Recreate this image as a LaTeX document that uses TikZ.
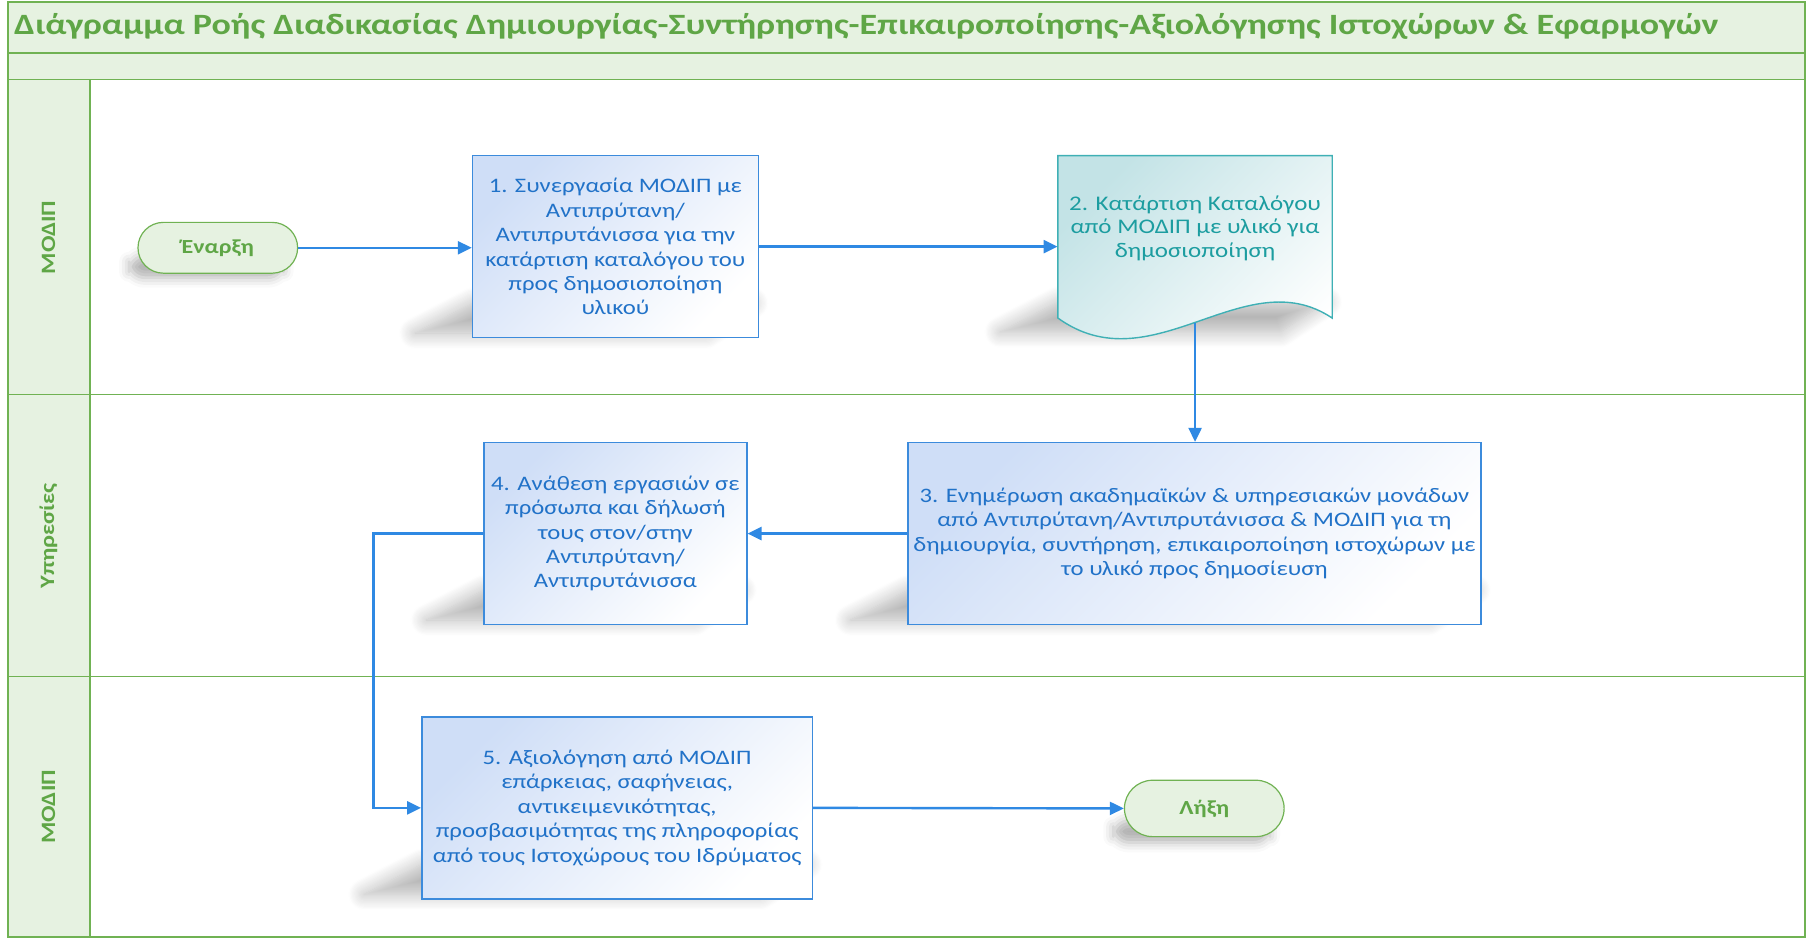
\documentclass[tikz,border=0pt]{standalone}
\usepackage{fontspec}
\setmainfont{Carlito}[FakeStretch=1.2]
\newfontfamily\titlefont{Carlito}[FakeStretch=1.22]
\usetikzlibrary{arrows.meta,shadows.blur,shapes.misc,calc}
\definecolor{gfill}{HTML}{E6F2E1}
\definecolor{gline}{HTML}{70B253}
\definecolor{gtext}{HTML}{5FA646}
\definecolor{bline}{HTML}{3C8BDC}
\definecolor{btext}{HTML}{2172C8}
\definecolor{bfill}{HTML}{CFDEF7}
\definecolor{tline}{HTML}{3FB0B5}
\definecolor{ttext}{HTML}{1C9DA0}
\definecolor{tfill}{HTML}{C3E3E6}
\definecolor{arrc}{HTML}{2F89E3}
\newcommand\mkshadow[3]{\path[blur shadow={shadow xshift=0pt,shadow yshift=0pt,shadow blur radius=8pt,shadow blur steps=14,shadow opacity=30}] (#1-50,#3-4) -- (#2-45,#3-4) -- (#2-5,#3-30) -- (#1,#3-30) -- cycle;}
\tikzset{
  box/.style={draw=bline, line width=0.7pt, top color=bfill, bottom color=white, shading angle=45,
    text=btext, font=\fontsize{10.3}{12.2}\selectfont, align=center, inner sep=1pt},
  term/.style={rounded rectangle, draw=gline, line width=0.6pt, fill=gfill,
    text=gtext, font=\bfseries\fontsize{10}{12}\selectfont},
  lanelabel/.style={rotate=90, text=gtext, font=\bfseries\fontsize{10.2}{12}\selectfont},
  arr/.style={draw=arrc, line width=1.2pt, -{Triangle[length=7pt,width=6.5pt]}},
  gl/.style={draw=gline, line width=1pt},
}
\begin{document}
\begin{tikzpicture}[x=0.5762pt,y=-0.5762pt]
\useasboundingbox (0,0) rectangle (1568,814);
% bands and lanes
\fill[gfill] (7,2) rectangle (1566,69);
\fill[gfill] (7,69) rectangle (78,813);
\draw[gl] (7,46) -- (1566,46);
\draw[gl, line width=0.8pt] (7,69) -- (1566,69);
\draw[gl, line width=0.6pt] (7,342) -- (1566,342);
\draw[gl, line width=0.6pt] (7,587) -- (1566,587);
\draw[gl] (78,69) -- (78,813);
\draw[gl] (7,2) rectangle (1566,813);
\node[anchor=west, text=gtext, font=\titlefont\bfseries\fontsize{14.75}{17}\selectfont, inner sep=0pt] (title) at (12,23)
  {Διάγραμμα Ροής Διαδικασίας Δημιουργίας-Συντήρησης-Επικαιροποίησης-Αξιολόγησης Ιστοχώρων \& Εφαρμογών};
\node[lanelabel] (lane1) at (42,206) {ΜΟΔΙΠ};
\node[lanelabel] (lane2) at (42,465) {Υπηρεσίες};
\node[lanelabel] (lane3) at (42,700) {ΜΟΔΙΠ};
% shadows
\mkshadow{410}{658}{293}
\mkshadow{918}{1156}{292}
\mkshadow{788}{1285}{542}
\mkshadow{420}{648}{542}
\mkshadow{366}{705}{780}
\path[blur shadow={shadow xshift=0pt,shadow yshift=0pt,shadow blur radius=5pt,shadow opacity=30}, rounded corners=8pt] (112,222) rectangle (246,241);
\path[blur shadow={shadow xshift=0pt,shadow yshift=0pt,shadow blur radius=5pt,shadow opacity=30}, rounded corners=8pt] (966,712) rectangle (1102,731);
% document shape
\path[draw=tline, line width=0.7pt, top color=tfill, bottom color=white, shading angle=45]
  (918,135) -- (1156,135) -- (1156,276) .. controls (1080,225) and (1000,335) .. (918,276) -- cycle;
\node[minimum width=137.1pt, minimum height=81.2pt, inner sep=0pt] (doc) at (1037,205.5) {};
\node[text=ttext, font=\fontsize{10.4}{11.9}\selectfont, align=center] (doctext) at (1037,198)
  {2. Κατάρτιση Καταλόγου\\από ΜΟΔΙΠ με υλικό για\\δημοσιοποίηση};
\coordinate (docbot) at (1037,280);
% nodes
\node[term, minimum width=86.5pt, minimum height=25.4pt] (start) at (189,215) {Έναρξη};
\node[term, minimum width=86.5pt, minimum height=28.2pt] (end) at (1045,701.5) {Λήξη};
\node[box, minimum width=142.9pt, minimum height=91pt] (b1) at (534,214)
  {1. Συνεργασία ΜΟΔΙΠ με\\Αντιπρύτανη/\\Αντιπρυτάνισσα για την\\κατάρτιση καταλόγου του\\προς δημοσιοποίηση\\υλικού};
\node[box, minimum width=286.4pt, minimum height=91pt] (b3) at (1036.5,463)
  {3. Ενημέρωση ακαδημαϊκών \& υπηρεσιακών μονάδων\\από Αντιπρύτανη/Αντιπρυτάνισσα \& ΜΟΔΙΠ για τη\\δημιουργία, συντήρηση, επικαιροποίηση ιστοχώρων με\\το υλικό προς δημοσίευση};
\node[box, minimum width=131.4pt, minimum height=91pt] (b4) at (534,463)
  {4. Ανάθεση εργασιών σε\\πρόσωπα και δήλωσή\\τους στον/στην\\Αντιπρύτανη/\\Αντιπρυτάνισσα};
\node[box, minimum width=195.3pt, minimum height=91pt] (b5) at (535.5,701)
  {5. Αξιολόγηση από ΜΟΔΙΠ\\επάρκειας, σαφήνειας,\\αντικειμενικότητας,\\προσβασιμότητας της πληροφορίας\\από τους Ιστοχώρους του Ιδρύματος};
\coordinate (bend) at (324,463);
% connectors
\draw[arr] (start.east) -- (start.east -| b1.west);
\draw[arr] (b1.east) -- (b1.east -| doc.west);
\draw[arr] (docbot) -- (docbot |- b3.north);
\draw[arr] (b3.west) -- (b4.east);
\draw[arr] (b4.west) -- (bend) |- (b5.west);
\draw[arr] (b5.east) -- (end.west);
\end{tikzpicture}
\end{document}
